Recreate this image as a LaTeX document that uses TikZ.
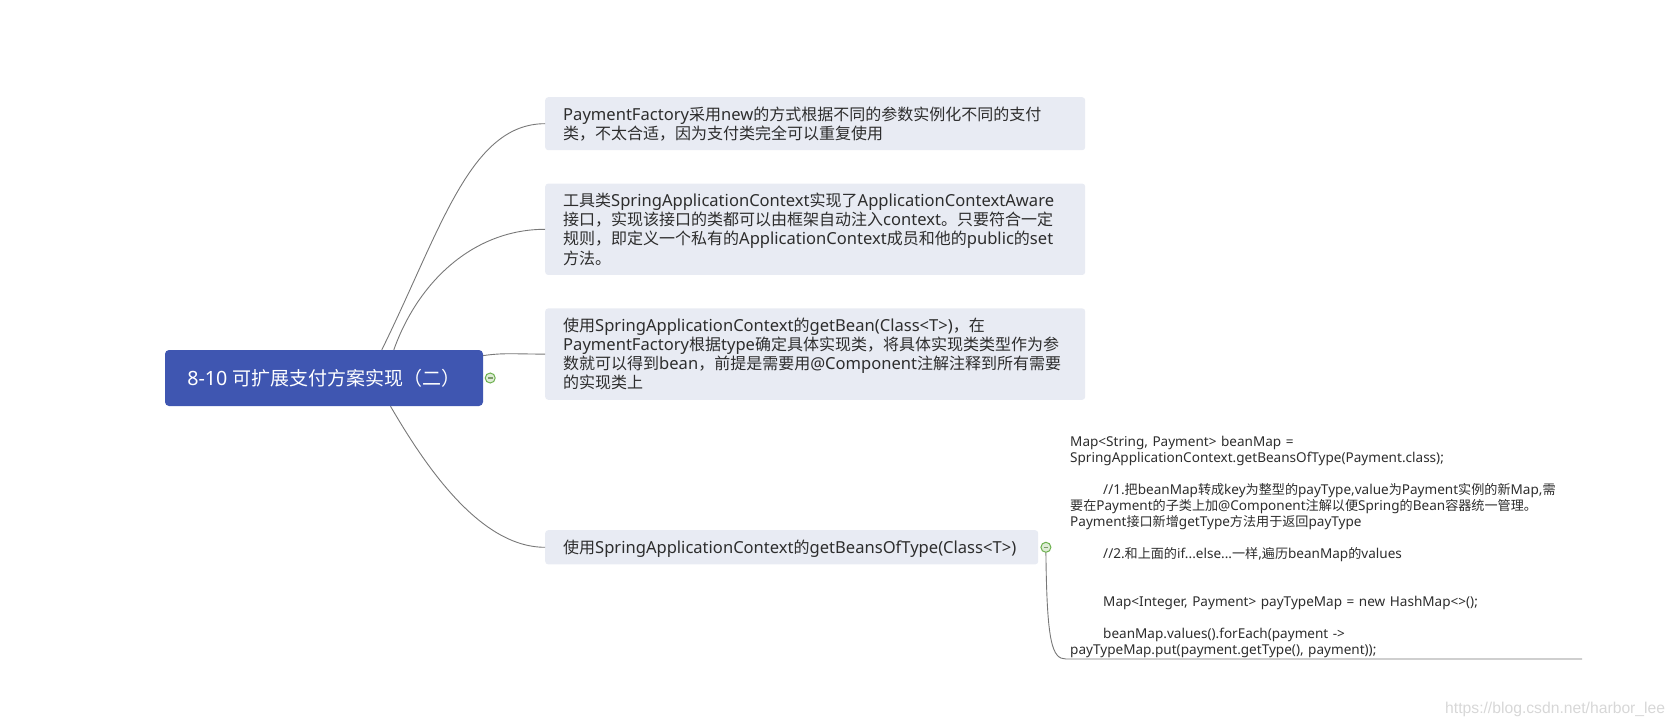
\documentclass[tikz,border=0pt]{standalone}
\usepackage{fontspec}
\usepackage{xcolor}
\usepackage{tikz}
\usetikzlibrary{positioning}
\setmainfont{Noto Sans}[Scale=1.035]
\newfontfamily\cjkfont{Noto Sans CJK SC}
\newfontfamily\markfont{Liberation Sans}
% CJK runs are switched to the CJK family automatically
\XeTeXinterchartokenstate=1
\newXeTeXintercharclass\cjkclass
\count255="3000
\loop\XeTeXcharclass\count255=\cjkclass
  \ifnum\count255<"9FFF \advance\count255 by 1 \repeat
\count255="FF00
\loop\XeTeXcharclass\count255=\cjkclass
  \ifnum\count255<"FFEF \advance\count255 by 1 \repeat
\XeTeXinterchartoks 0 \cjkclass = {\begingroup\cjkfont}
\XeTeXinterchartoks 4095 \cjkclass = {\begingroup\cjkfont}
\XeTeXinterchartoks \cjkclass 0 = {\endgroup}
\XeTeXinterchartoks \cjkclass 4095 = {\endgroup}

\definecolor{rootblue}{RGB}{63,86,177}
\definecolor{topicfill}{RGB}{232,235,243}
\definecolor{topictext}{RGB}{45,45,45}
\definecolor{linkgray}{RGB}{120,120,120}
\definecolor{foldgreen}{RGB}{108,176,78}
\definecolor{foldfill}{RGB}{222,236,214}
\definecolor{foldbar}{RGB}{125,155,105}
\definecolor{markgray}{RGB}{215,215,215}

\newcommand\rootfont{\fontsize{19}{22}\selectfont}
\newcommand\boxfont{\fontsize{16}{19.2}\selectfont\lineskiplimit=-50pt}
\newcommand\leaffont{\fontsize{13.1}{16}\selectfont\lineskiplimit=-50pt}
\newcommand\boxstrut{\rule[-3.6pt]{0pt}{19.2pt}}

\tikzset{
  rootbox/.style={
    rectangle, rounded corners=4pt, fill=rootblue, text=white,
    minimum width=318pt, minimum height=56pt, inner sep=0pt,
    font=\rootfont
  },
  topicbox/.style={
    rectangle, rounded corners=3pt, fill=topicfill, text=topictext,
    text width=504pt, align=left, inner xsep=18pt, inner ysep=7.3pt,
    font=\boxfont,
    execute at begin node=\boxstrut, execute at end node=\boxstrut
  },
  leaftext/.style={
    text=topictext, text width=512pt, align=left, inner sep=0pt,
    font=\leaffont
  },
  fold/.style={
    circle, draw=foldgreen, fill=foldfill, line width=1pt,
    minimum size=10pt, inner sep=0pt,
    path picture={\draw[foldbar, line width=1.3pt]
      ([xshift=2.6pt]path picture bounding box.west) --
      ([xshift=-2.6pt]path picture bounding box.east);}
  },
  link/.style={draw=linkgray, line width=0.9pt},
}

\begin{document}
\begin{tikzpicture}[x=1pt, y=-1pt]
  \useasboundingbox (0,0) rectangle (1675,727);
  \node[rootbox] (root) at (324,378) {8-10 可扩展支付方案实现（二）};
  \node[fold, right=1.5pt of root] (f0) {};
  \node[topicbox, anchor=north west] (b1) at (545,97)
    {PaymentFactory采用new的方式根据不同的参数实例化不同的支付\\
     类，不太合适，因为支付类完全可以重复使用};
  \node[topicbox, below=33pt of b1.south west, anchor=north west] (b2)
    {工具类SpringApplicationContext实现了ApplicationContextAware\\
     接口，实现该接口的类都可以由框架自动注入context。只要符合一定\\
     规则，即定义一个私有的ApplicationContext成员和他的public的set\\
     方法。};
  \node[topicbox, below=33pt of b2.south west, anchor=north west] (b3)
    {使用SpringApplicationContext的getBean(Class<T>)，在\\
     PaymentFactory根据type确定具体实现类，将具体实现类类型作为参\\
     数就可以得到bean，前提是需要用@Component注解注释到所有需要\\
     的实现类上};
  \node[topicbox, text width=457pt, below=130pt of b3.south west,
    anchor=north west] (b4)
    {使用SpringApplicationContext的getBeansOfType(Class<T>)};
  \node[fold, right=2pt of b4] (f4) {};
  \node[leaftext, anchor=base west] (leaf) at (1070,446.5)
    {Map<String, Payment> beanMap =\\
     SpringApplicationContext.getBeansOfType(Payment.class);\\[16pt]
     \hspace*{33pt}//1.把beanMap转成key为整型的payType,value为Payment实例的新Map,需\\
     要在Payment的子类上加@Component注解以便Spring的Bean容器统一管理。\\
     Payment接口新增getType方法用于返回payType\\[16pt]
     \hspace*{33pt}//2.和上面的if...else...一样,遍历beanMap的values\\[32pt]
     \hspace*{33pt}Map<Integer, Payment> payTypeMap = new HashMap<>();\\[16pt]
     \hspace*{33pt}beanMap.values().forEach(payment ->\\
     payTypeMap.put(payment.getType(), payment));};
  \coordinate (ubend) at (1066,659);
  \coordinate (uend) at (1582,659);
  \node[text=markgray, font=\markfont\fontsize{15.7}{18}\selectfont,
    anchor=base west, inner sep=0pt] (mark) at (1445,713)
    {https://blog.csdn.net/harbor\_lee};
  \draw[link] (root.26) .. controls +(59,-120) and +(-75,0) .. (b1.west);
  \draw[link] (root.22) .. controls +(25,-70) and +(-70,0) .. (b2.west);
  \draw[link] (root.8) .. controls +(20,-3) and +(-30,0) .. (b3.west);
  \draw[link] (root.-23) .. controls +(35,60) and +(-65,0) .. (b4.west);
  \draw[link] (f4.south) .. controls +(1,90) and +(-14,0) .. (ubend) -- (uend);
\end{tikzpicture}
\end{document}
